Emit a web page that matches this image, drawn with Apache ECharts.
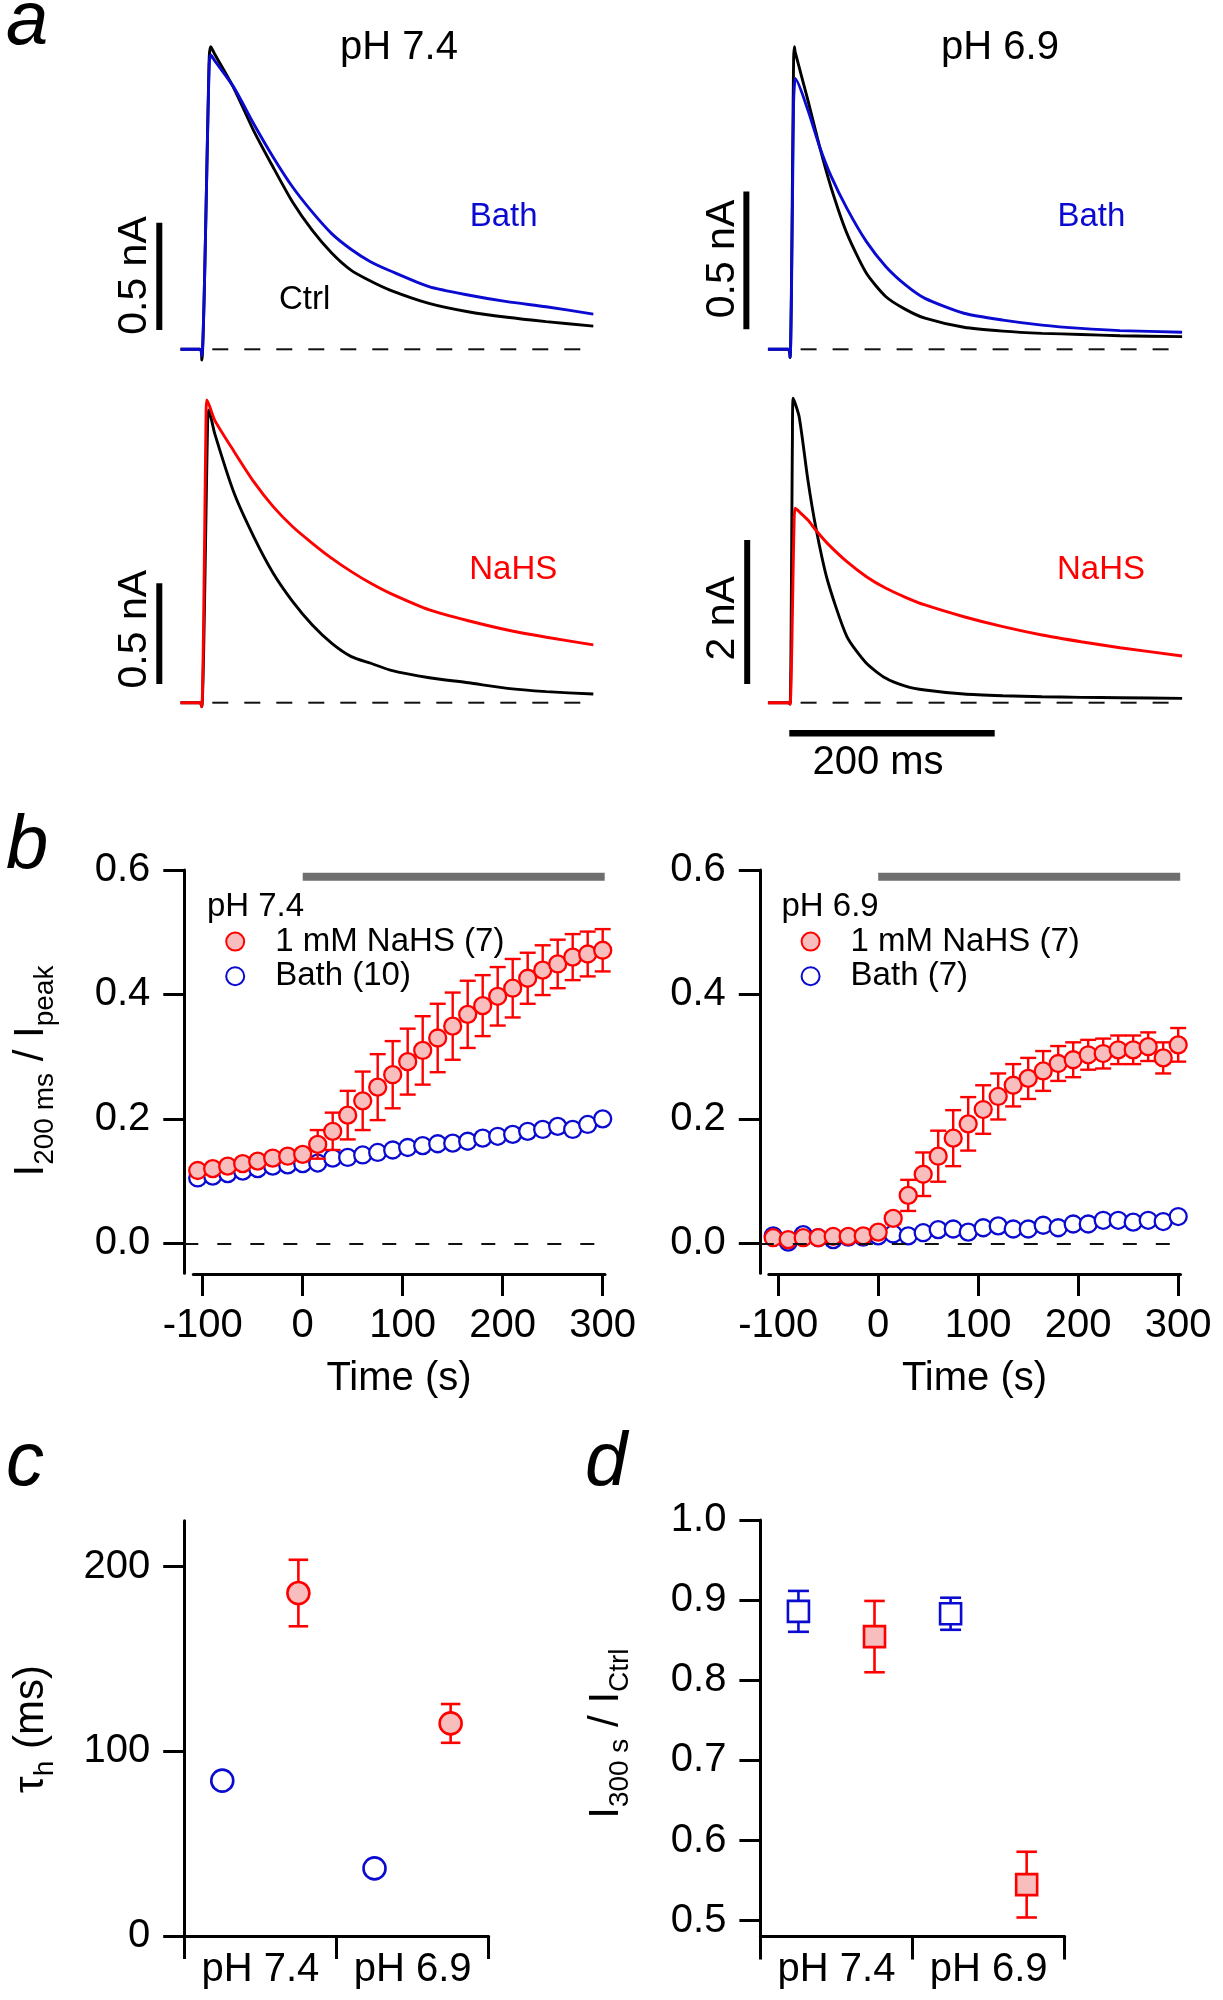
<!DOCTYPE html>
<html><head><meta charset="utf-8">
<script src="https://cdn.jsdelivr.net/npm/echarts@6/dist/echarts.min.js"></script>
<style>html,body{margin:0;padding:0;background:#fff}#c{width:1223px;height:2000px}</style>
</head><body><div id="c"></div><script>
// ================= DATA =================
// Panel a: current traces (time in ms from step onset, current in nA above baseline)
const tTop74   = [-20, -1, 0.8, 8, 9.5, 13, 32, 51, 70, 89, 108, 127, 146, 165, 184, 222, 260, 298, 336, 382];
const iCtrlTop74 = [0, 0, -0.05, 1.36, 1.409, 1.378, 1.216, 1.021, 0.85, 0.687, 0.556, 0.45, 0.369, 0.318, 0.276, 0.214, 0.175, 0.149, 0.129, 0.108];
const iBath74    = [0, 0, -0.03, 1.33, 1.371, 1.347, 1.22, 1.053, 0.897, 0.757, 0.641, 0.54, 0.466, 0.408, 0.366, 0.292, 0.253, 0.222, 0.198, 0.164];

const tTop69   = [-20.8, -1, 0.8, 4.2, 5.0, 5.7, 18.1, 29.5, 40.9, 56.1, 75.1, 94.1, 113.1, 132.1, 170, 208, 246, 284, 322, 382.5];
const iCtrlTop69 = [0, 0, -0.03, 1.05, 1.099, 1.08, 0.905, 0.736, 0.585, 0.421, 0.276, 0.191, 0.145, 0.113, 0.08, 0.066, 0.058, 0.054, 0.049, 0.046];
const iBath69    = [0, 0, -0.03, 0.9, 0.96, 0.984, 0.869, 0.736, 0.627, 0.512, 0.391, 0.3, 0.234, 0.185, 0.131, 0.106, 0.088, 0.076, 0.068, 0.062];

const tCtrlBot74 = [-20, -1, 0.8, 6.5, 7.6, 13.3, 32.3, 51.3, 70.3, 89.3, 108.4, 127.4, 146.4, 165.3, 184.3, 222.4, 260.4, 298.4, 336.4, 382];
const iCtrlBot74 = [0, 0, -0.02, 1.4, 1.454, 1.338, 1.04, 0.825, 0.643, 0.502, 0.386, 0.295, 0.229, 0.196, 0.162, 0.124, 0.099, 0.071, 0.055, 0.043];
const tNaHS74 = [-20, -1, 0.8, 5, 5.7, 13.3, 32.3, 51.3, 70.3, 89.3, 108.4, 127.4, 146.4, 165.3, 184.3, 222.4, 260.4, 298.4, 336.4, 382];
const iNaHS74 = [0, 0, -0.02, 1.45, 1.504, 1.404, 1.247, 1.098, 0.974, 0.874, 0.792, 0.717, 0.651, 0.593, 0.543, 0.461, 0.407, 0.361, 0.325, 0.287];

const tCtrlBot69 = [-20.8, -1, 0.8, 3.0, 3.8, 9.6, 18.1, 25.7, 37.1, 56.1, 75.1, 94.1, 113.1, 132.1, 170, 208, 246, 284, 322, 382.5];
const iCtrlBot69 = [0, 0, -0.02, 3.6, 4.228, 3.972, 3.093, 2.444, 1.704, 0.917, 0.547, 0.338, 0.231, 0.176, 0.12, 0.097, 0.083, 0.074, 0.069, 0.06];
const tNaHS69 = [-20.8, -1, 0.8, 4.5, 5.7, 9.6, 18.1, 25.7, 37.1, 56.1, 75.1, 94.1, 113.1, 132.1, 170, 208, 246, 284, 322, 382.5];
const iNaHS69 = [0, 0, -0.02, 2.4, 2.7, 2.653, 2.537, 2.398, 2.213, 1.958, 1.75, 1.589, 1.464, 1.357, 1.194, 1.056, 0.94, 0.847, 0.764, 0.649];

const baselineSpan = [11, 382];          // dashed zero-current line (ms)
const scaleBarNA = [0.5, 0.5, 0.5, 2];   // vertical scale bars (nA): TL, TR, BL, BR
const scaleBarMs = 200;                  // horizontal scale bar (ms)

// Panel b: I200ms / Ipeak vs time
const timeB = [-105, -90, -75, -60, -45, -30, -15, 0, 15, 30, 45, 60, 75, 90, 105, 120, 135, 150, 165, 180, 195, 210, 225, 240, 255, 270, 285, 300];
const nahs74    = [0.117,0.120,0.124,0.128,0.132,0.137,0.140,0.143,0.159,0.180,0.206,0.229,0.251,0.271,0.292,0.310,0.330,0.349,0.368,0.382,0.397,0.410,0.426,0.439,0.449,0.460,0.465,0.471];
const nahs74Err = [0.004,0.004,0.004,0.004,0.004,0.005,0.005,0.006,0.023,0.030,0.039,0.047,0.053,0.054,0.053,0.055,0.055,0.054,0.054,0.049,0.047,0.047,0.041,0.040,0.039,0.037,0.036,0.034];
const bath74    = [0.105,0.108,0.112,0.116,0.120,0.124,0.126,0.128,0.129,0.137,0.138,0.142,0.146,0.150,0.154,0.157,0.160,0.161,0.164,0.169,0.172,0.175,0.180,0.183,0.188,0.183,0.191,0.200];
const nahs69    = [0.009,0.006,0.009,0.009,0.011,0.011,0.012,0.018,0.040,0.077,0.111,0.140,0.169,0.192,0.215,0.236,0.254,0.265,0.277,0.289,0.295,0.303,0.305,0.311,0.311,0.316,0.298,0.319];
const nahs69Err = [0.003,0.003,0.003,0.003,0.003,0.003,0.004,0.005,0.008,0.025,0.035,0.041,0.045,0.043,0.039,0.037,0.034,0.033,0.032,0.028,0.028,0.024,0.024,0.023,0.023,0.023,0.025,0.027];
const bath69    = [0.012,0.002,0.014,0.009,0.006,0.010,0.010,0.012,0.015,0.012,0.017,0.022,0.023,0.018,0.025,0.028,0.023,0.023,0.029,0.025,0.031,0.031,0.037,0.037,0.034,0.037,0.035,0.043];
const treatment = [0, 302];              // NaHS application (s)
const yTicksB = [0, 0.2, 0.4, 0.6];
const xTicksB = [-100, 0, 100, 200, 300];

// Panel c: tau_h (ms)
const groups = ['pH 7.4', 'pH 6.9'];
const tauBath = [84.1, 36.6];
const tauBathErr = [2, 2];
const tauNaHS = [185.7, 115.1];
const tauNaHSErr = [18, 10.5];
const yTicksC = [0, 100, 200];

// Panel d: I300s / ICtrl
const ratioBath = [0.886, 0.883];
const ratioBathErr = [0.0255, 0.02];
const ratioNaHS = [0.8545, 0.545];
const ratioNaHSErr = [0.0445, 0.041];
const yTicksD = [0.5, 0.6, 0.7, 0.8, 0.9, 1.0];

// ================= STYLE / LAYOUT =================
const FONT = '"Liberation Sans", Arial, Helvetica, sans-serif';
const RED = '#ff0000', PINK = '#f8bdbd', BLUE = '#0a0ad0', BLACK = '#000000', GREY = '#6f6f6f';
const K = 0.3465; // middle -> baseline factor

const PX_PER_MS = 1.027, A_TMIN = -60, A_TMAX = 390;
const aLayout = [
  {t0x: 201,   baseY: 349.3, pxPerNA: 214.7, barT: -40.6, barFrom: 0.09},
  {t0x: 789.3, baseY: 349.3, pxPerNA: 275.3, barT: -41.8, barFrom: 0.073},
  {t0x: 201,   baseY: 702.7, pxPerNA: 201.3, barT: -40.6, barFrom: 0.093},
  {t0x: 789.3, baseY: 702.7, pxPerNA: 72,    barT: -41.0, barFrom: 0.26}
];

const grids = [], xAxes = [], yAxes = [], series = [];

// ---------- panel a ----------
aLayout.forEach((L, i) => {
  grids.push({left: L.t0x + A_TMIN * PX_PER_MS, width: (A_TMAX - A_TMIN) * PX_PER_MS, top: L.baseY - 345, height: 400, containLabel: false});
  xAxes.push({gridIndex: i, type: 'value', min: A_TMIN, max: A_TMAX, show: false});
  yAxes.push({gridIndex: i, type: 'value', min: -55 / L.pxPerNA, max: 345 / L.pxPerNA, show: false});
});
function trace(gi, t, v, color, z) {
  return {type: 'line', xAxisIndex: gi, yAxisIndex: gi, data: t.map((x, k) => [x, v[k]]), symbol: 'none',
    smooth: 0.22, lineStyle: {color: color, width: 2.9}, clip: false, silent: true, z: z, animation: false};
}
function segLine(gi, pts, style, z) {
  return {type: 'line', xAxisIndex: gi, yAxisIndex: gi, data: pts, symbol: 'none', lineStyle: style, clip: false, silent: true, z: z || 1};
}
series.push(trace(0, tTop74, iCtrlTop74, BLACK, 2), trace(0, tTop74, iBath74, BLUE, 3));
series.push(trace(1, tTop69, iCtrlTop69, BLACK, 2), trace(1, tTop69, iBath69, BLUE, 3));
series.push(trace(2, tCtrlBot74, iCtrlBot74, BLACK, 2), trace(2, tNaHS74, iNaHS74, RED, 3));
series.push(trace(3, tCtrlBot69, iCtrlBot69, BLACK, 2), trace(3, tNaHS69, iNaHS69, RED, 3));
aLayout.forEach((L, i) => {
  series.push(segLine(i, [[baselineSpan[0], 0], [baselineSpan[1], 0]], {color: '#111', width: 2, type: [16, 16]}, 1));
  series.push(segLine(i, [[L.barT, L.barFrom], [L.barT, L.barFrom + scaleBarNA[i]]], {color: BLACK, width: 6, cap: 'butt'}, 1));
});
const timeBarY = -30.6 / aLayout[3].pxPerNA;
series.push(segLine(3, [[0, timeBarY], [scaleBarMs, timeBarY]], {color: BLACK, width: 6.5, cap: 'butt'}, 1));

// ---------- panel b ----------
const B_TOP = 870, B_ZERO = 1243.3, B_PPU = 622.2, B_BOT = 1273.3, B_XAXIS = 1274;
const bLayout = [
  {yAxisX: 184.3, xAxisX: 193.3, right: 605,    t0: 302.7},
  {yAxisX: 759.8, xAxisX: 768.8, right: 1180.5, t0: 878.2}
];
const axisBlack = {color: BLACK, width: 3};
bLayout.forEach((L, j) => {
  const gData = grids.length;
  grids.push({left: L.yAxisX, top: B_TOP, width: L.right - L.yAxisX, height: B_BOT - B_TOP, containLabel: false});
  xAxes.push({gridIndex: gData, type: 'value', min: L.yAxisX - L.t0, max: L.right - L.t0, show: false});
  yAxes.push({gridIndex: gData, type: 'value', min: -(B_BOT - B_ZERO) / B_PPU, max: 0.6, position: 'left',
    axisLine: {show: true, onZero: false, lineStyle: axisBlack},
    axisTick: {show: true, length: 21, lineStyle: axisBlack, customValues: yTicksB},
    axisLabel: {show: true, customValues: yTicksB, formatter: v => v.toFixed(1), fontSize: 40, color: BLACK, fontFamily: FONT, margin: 34},
    splitLine: {show: false}});
  const gX = grids.length;
  grids.push({left: L.xAxisX, top: B_TOP, width: L.right - L.xAxisX, height: B_XAXIS - B_TOP, containLabel: false});
  xAxes.push({gridIndex: gX, type: 'value', min: L.xAxisX - L.t0, max: L.right - L.t0, position: 'bottom',
    axisLine: {show: true, onZero: false, lineStyle: axisBlack},
    axisTick: {show: true, length: 22, lineStyle: axisBlack, customValues: xTicksB},
    axisLabel: {show: true, customValues: xTicksB, fontSize: 40, color: BLACK, fontFamily: FONT, margin: 32},
    splitLine: {show: false}});
  yAxes.push({gridIndex: gX, type: 'value', min: 0, max: 1, show: false});
  L.gData = gData;
});

function errorBars(xi, yi, pts, color, cap, lw, z) {
  return {type: 'custom', xAxisIndex: xi, yAxisIndex: yi, data: pts, z: z, silent: true, clip: false,
    renderItem: function (params, api) {
      const x = api.value(0), y = api.value(1), e = api.value(2);
      const a = api.coord([x, y + e]), b = api.coord([x, y - e]);
      const st = {stroke: color, lineWidth: lw, fill: null};
      return {type: 'group', children: [
        {type: 'line', shape: {x1: a[0], y1: a[1], x2: b[0], y2: b[1]}, style: st},
        {type: 'line', shape: {x1: a[0] - cap / 2, y1: a[1], x2: a[0] + cap / 2, y2: a[1]}, style: st},
        {type: 'line', shape: {x1: b[0] - cap / 2, y1: b[1], x2: b[0] + cap / 2, y2: b[1]}, style: st}
      ]};
    }};
}
const nahsStyle = {color: PINK, borderColor: RED, borderWidth: 2.3, opacity: 1};
const bathStyle = {color: '#ffffff', borderColor: BLUE, borderWidth: 2.3, opacity: 1};
const barY = 0.6 - 6.7 / B_PPU;
[[bath74, nahs74, nahs74Err, 'Bath (10)'], [bath69, nahs69, nahs69Err, 'Bath (7)']].forEach((d, j) => {
  const g = bLayout[j].gData;
  series.push({type: 'scatter', name: d[3], xAxisIndex: g, yAxisIndex: g, data: timeB.map((t, k) => [t, d[0][k]]),
    symbol: 'circle', symbolSize: 17, itemStyle: bathStyle, z: 2, silent: true,
    markLine: {silent: true, symbol: 'none', label: {show: false}, data: [{yAxis: 0}], lineStyle: {type: [14, 19], color: '#111', width: 2}, animation: false}});
  series.push(errorBars(g, g, timeB.map((t, k) => [t, d[1][k], d[2][k]]), RED, 16, 2.4, 3));
  series.push({type: 'scatter', name: '1 mM NaHS (7)', xAxisIndex: g, yAxisIndex: g, data: timeB.map((t, k) => [t, d[1][k]]),
    symbol: 'circle', symbolSize: 17, itemStyle: nahsStyle, z: 4, silent: true});
  series.push(segLine(g, [[treatment[0], barY], [treatment[1], barY]], {color: GREY, width: 8, cap: 'butt'}, 1));
});

// ---------- panels c & d ----------
function catPanel(left, top, width, height, ymin, ymax, ticks, fmt) {
  const g = grids.length;
  grids.push({left: left, top: top, width: width, height: height, containLabel: false});
  const xc = xAxes.length;
  xAxes.push({gridIndex: g, type: 'category', data: groups, boundaryGap: true, position: 'bottom',
    axisLine: {show: true, onZero: false, lineStyle: axisBlack},
    axisTick: {show: true, alignWithLabel: false, interval: 0, length: 23, lineStyle: axisBlack},
    axisLabel: {show: true, interval: 0, fontSize: 40, color: BLACK, fontFamily: FONT, margin: 14}});
  const xv = xAxes.length;
  xAxes.push({gridIndex: g, type: 'value', min: 0, max: groups.length, show: false});
  const yi = yAxes.length;
  yAxes.push({gridIndex: g, type: 'value', min: ymin, max: ymax, position: 'left',
    axisLine: {show: true, onZero: false, lineStyle: axisBlack},
    axisTick: {show: true, length: 21, lineStyle: axisBlack, customValues: ticks},
    axisLabel: {show: true, customValues: ticks, formatter: fmt, fontSize: 40, color: BLACK, fontFamily: FONT, margin: 34},
    splitLine: {show: false}});
  return {xv: xv, yi: yi};
}
const C = catPanel(184.2, 1520.7, 304.5, 415.3, 0, 224.86, yTicksC, v => String(v));
series.push(errorBars(C.xv, C.yi, groups.map((g, i) => [i + 0.25, tauBath[i], tauBathErr[i]]), BLUE, 19, 2.4, 2));
series.push({type: 'scatter', xAxisIndex: C.xv, yAxisIndex: C.yi, data: groups.map((g, i) => [i + 0.25, tauBath[i]]),
  symbol: 'circle', symbolSize: 22, itemStyle: Object.assign({}, bathStyle, {borderWidth: 2.6}), z: 3, silent: true});
series.push(errorBars(C.xv, C.yi, groups.map((g, i) => [i + 0.75, tauNaHS[i], tauNaHSErr[i]]), RED, 19.5, 2.6, 2));
series.push({type: 'scatter', xAxisIndex: C.xv, yAxisIndex: C.yi, data: groups.map((g, i) => [i + 0.75, tauNaHS[i]]),
  symbol: 'circle', symbolSize: 22, itemStyle: Object.assign({}, nahsStyle, {borderWidth: 2.6}), z: 3, silent: true});

const D = catPanel(760.4, 1520, 304.3, 416.4, 0.4804, 1.0, yTicksD, v => v.toFixed(1));
series.push(errorBars(D.xv, D.yi, groups.map((g, i) => [i + 0.25, ratioBath[i], ratioBathErr[i]]), BLUE, 21, 2.6, 2));
series.push({type: 'scatter', xAxisIndex: D.xv, yAxisIndex: D.yi, data: groups.map((g, i) => [i + 0.25, ratioBath[i]]),
  symbol: 'rect', symbolSize: 21, itemStyle: Object.assign({}, bathStyle, {borderWidth: 2.6}), z: 3, silent: true});
series.push(errorBars(D.xv, D.yi, groups.map((g, i) => [i + 0.75, ratioNaHS[i], ratioNaHSErr[i]]), RED, 20.5, 2.6, 2));
series.push({type: 'scatter', xAxisIndex: D.xv, yAxisIndex: D.yi, data: groups.map((g, i) => [i + 0.75, ratioNaHS[i]]),
  symbol: 'rect', symbolSize: 21, itemStyle: Object.assign({}, nahsStyle, {borderWidth: 2.6}), z: 3, silent: true});

// ---------- text ----------
const graphics = [];
function txt(t, x, y, fs, color, opts) {
  opts = opts || {};
  graphics.push({type: 'text', x: x, y: y, rotation: opts.rot || 0, z: 10, silent: true,
    style: {text: t, fontSize: fs, fontFamily: FONT, fontStyle: opts.italic ? 'italic' : 'normal', fill: color || BLACK,
      align: opts.align || 'center', verticalAlign: 'middle'}});
}
const mctx = document.createElement('canvas').getContext('2d');
function tw(t, fs) { mctx.font = fs + 'px ' + FONT; return mctx.measureText(t).width; }
function vlabel(segs, baseX, cy) {
  const total = segs.reduce((s, g) => s + tw(g[0], g[1]), 0);
  let pos = cy + total / 2;
  segs.forEach(g => {
    const w = tw(g[0], g[1]);
    graphics.push({type: 'text', x: baseX + (g[2] || 0) - K * g[1], y: pos, rotation: Math.PI / 2, z: 10, silent: true,
      style: {text: g[0], fontSize: g[1], fontFamily: FONT, fill: BLACK, align: 'left', verticalAlign: 'middle'}});
    pos -= w;
  });
}
// panel letters
txt('a', 6, 23.3, 76, BLACK, {italic: true, align: 'left'});
txt('b', 6, 847, 76, BLACK, {italic: true, align: 'left'});
txt('c', 6, 1464.3, 76, BLACK, {italic: true, align: 'left'});
txt('d', 585, 1464.3, 76, BLACK, {italic: true, align: 'left'});
// panel a
txt('pH 7.4', 399, 48, 40); txt('pH 6.9', 1000, 48, 40);
txt('Bath', 503.6, 216.7, 33, BLUE); txt('Ctrl', 304.7, 300, 33, BLACK); txt('Bath', 1091.4, 216.7, 33, BLUE);
txt('NaHS', 513.3, 570, 33, RED); txt('NaHS', 1101, 570, 33, RED);
txt('0.5 nA', 135, 275.5, 41, BLACK, {rot: Math.PI / 2});
txt('0.5 nA', 723, 259, 41, BLACK, {rot: Math.PI / 2});
txt('0.5 nA', 135, 629.2, 41, BLACK, {rot: Math.PI / 2});
txt('2 nA', 723, 618.3, 41, BLACK, {rot: Math.PI / 2});
txt('200 ms', 878, 763.3, 40);
// panel b
txt('Time (s)', 399, 1378.5, 40); txt('Time (s)', 974.5, 1378.5, 40);
txt('pH 7.4', 206.9, 907.3, 33, BLACK, {align: 'left'});
txt('pH 6.9', 781.5, 907.3, 33, BLACK, {align: 'left'});
vlabel([['I', 42], ['200 ms', 28, 8.5], [' / I', 42], ['peak', 28, 8.5]], 46, 1071);
vlabel([['τ', 42], ['h', 28, 8.5], [' (ms)', 42]], 46, 1729);
vlabel([['I', 42], ['300 s', 28, 8.5], [' / I', 42], ['Ctrl', 28, 8.5]], 621, 1733.6);

const legendBase = {orient: 'vertical', itemWidth: 18, itemHeight: 18, itemGap: 1.6, icon: 'circle', padding: 0, selectedMode: false,
  textStyle: {fontSize: 33, color: BLACK, fontFamily: FONT, padding: [0, 0, 0, 26]}};

const option = {
  animation: false,
  backgroundColor: '#ffffff',
  textStyle: {fontFamily: FONT},
  grid: grids, xAxis: xAxes, yAxis: yAxes, series: series,
  legend: [
    Object.assign({}, legendBase, {left: 225.2, top: 925.1, data: ['1 mM NaHS (7)', 'Bath (10)']}),
    Object.assign({}, legendBase, {left: 800.6, top: 925.1, data: ['1 mM NaHS (7)', 'Bath (7)']})
  ],
  graphic: graphics
};
const chart = echarts.init(document.getElementById('c'), null, {renderer: 'canvas', width: 1223, height: 2000});
chart.setOption(option);
</script></body></html>
